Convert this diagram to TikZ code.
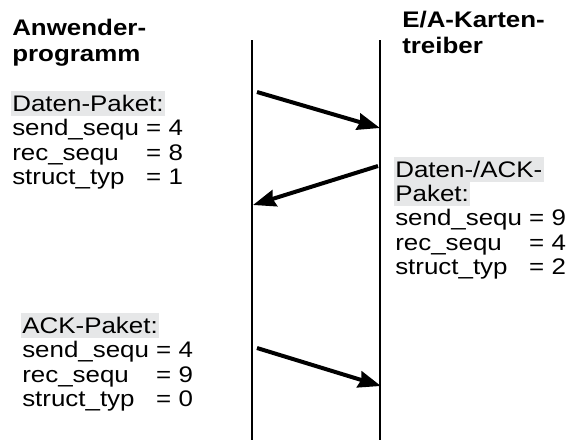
\documentclass[tikz,border=0pt]{standalone}
\usepackage{fontspec}
\setmainfont[FakeStretch=1.15]{Liberation Sans}
\usetikzlibrary{arrows.meta}

\definecolor{tagfill}{RGB}{230,231,232}
\newcommand\bodyfont{\fontsize{16.9}{18.4}\selectfont}
\newlength\kvwidth
% key column of fixed width, so that the "=" signs line up
\newcommand\kvline[2]{\makebox[\kvwidth][l]{#1}= #2}

\begin{document}
\settowidth\kvwidth{\bodyfont send\_sequ\ }%
\begin{tikzpicture}[x=0.75pt, y=-0.75pt,
  body/.style={font=\bodyfont, inner sep=0pt, anchor=base west},
  hdr/.style={body, font=\fontsize{16.9}{19.5}\selectfont\bfseries},
  tag/.style={body, fill=tagfill, inner xsep=1.2pt, inner ysep=0pt,
              text height=15pt, text depth=3.8pt},
  lifeline/.style={line width=0.8pt},
  msg/.style={line width=3pt, -{Stealth[length=17pt, width=12.5pt, inset=1.5pt]}}
]
\useasboundingbox (0,0) rectangle (577,440);

% column headings
\node[hdr] (hA1) at (12,35) {Anwender-};
\node[hdr] (hA2) at (12,61) {programm};
\node[hdr] (hB1) at (402,27) {E/A-Karten-};
\node[hdr] (hB2) at (402,53) {treiber};

% lifelines
\coordinate (aTop) at (252,40);
\coordinate (aBot) at (252,440);
\coordinate (bTop) at (380,40);
\coordinate (bBot) at (380,440);
\draw[lifeline] (aTop) -- (aBot);
\draw[lifeline] (bTop) -- (bBot);

% first packet (application -> driver)
\node[tag] (p1t) at (10.5,111) {Daten-Paket:};
\node[body] (p1a) at (12,135.5) {\kvline{send\_sequ}{4}};
\node[body] (p1b) at (12,160) {\kvline{rec\_sequ}{8}};
\node[body] (p1c) at (12,184.5) {\kvline{struct\_typ}{1}};

% second packet (driver -> application)
\node[tag] (p2t) at (393.5,177) {Daten-/ACK-};
\node[tag] (p2u) at (393.5,201) {Paket:};
\node[body] (p2a) at (395,225.5) {\kvline{send\_sequ}{9}};
\node[body] (p2b) at (395,250) {\kvline{rec\_sequ}{4}};
\node[body] (p2c) at (395,274.5) {\kvline{struct\_typ}{2}};

% third packet (application -> driver)
\node[tag] (p3t) at (20.5,333) {ACK-Paket:};
\node[body] (p3a) at (22,357.5) {\kvline{send\_sequ}{4}};
\node[body] (p3b) at (22,382) {\kvline{rec\_sequ}{9}};
\node[body] (p3c) at (22,406.5) {\kvline{struct\_typ}{0}};

% messages
\coordinate (m1s) at (257,92);
\coordinate (m1e) at (380,128);
\coordinate (m2s) at (378,166);
\coordinate (m2e) at (253,205);
\coordinate (m3s) at (257,348);
\coordinate (m3e) at (381,386);
\draw[msg] (m1s) -- (m1e);
\draw[msg] (m2s) -- (m2e);
\draw[msg] (m3s) -- (m3e);
\end{tikzpicture}
\end{document}
